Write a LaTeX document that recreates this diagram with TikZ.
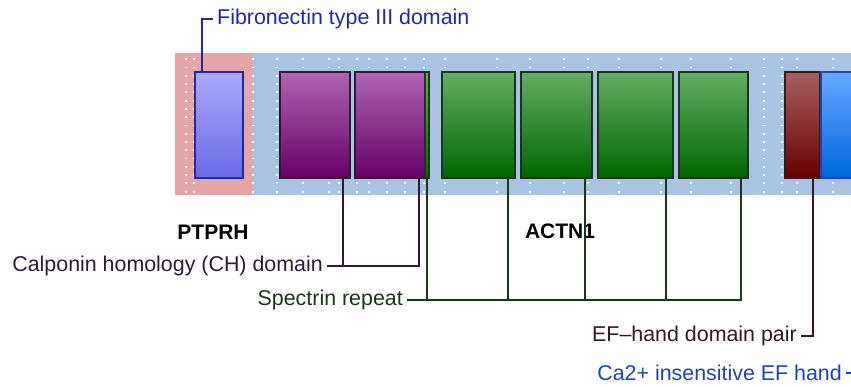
\documentclass[tikz,border=0pt]{standalone}
\usepackage{fontspec}
\setmainfont{Liberation Sans}
\usepackage{tikz}
\usetikzlibrary{positioning}
\definecolor{pinkbg}{HTML}{E4A6A6}
\definecolor{bluebg}{HTML}{A8C4E2}
\definecolor{fncol}{HTML}{2525A5}
\definecolor{chcol}{HTML}{2E1A36}
\definecolor{spcol}{HTML}{1A361A}
\definecolor{efcol}{HTML}{301C1C}
\definecolor{cacol}{HTML}{2244AA}

\begin{document}
\begin{tikzpicture}[x=1pt,y=-1pt]
					\tikzstyle{protbox}=[line width=1.6pt,inner sep=0pt,anchor=north west,minimum height=106pt]
					\tikzstyle{fnbox}=[protbox,draw=fncol,top color={rgb,255:red,170;green,170;blue,255},bottom color={rgb,255:red,106;green,106;blue,230}]
					\tikzstyle{chbox}=[protbox,draw=chcol,top color={rgb,255:red,176;green,101;blue,176},bottom color={rgb,255:red,102;green,0;blue,102}]
					\tikzstyle{spbox}=[protbox,draw=spcol,top color={rgb,255:red,102;green,173;blue,102},bottom color={rgb,255:red,0;green,102;blue,0}]
					\tikzstyle{efbox}=[protbox,draw=efcol,top color={rgb,255:red,170;green,96;blue,96},bottom color={rgb,255:red,102;green,0;blue,0}]
					\tikzstyle{cabox}=[protbox,draw=cacol,top color={rgb,255:red,102;green,170;blue,255},bottom color={rgb,255:red,0;green,102;blue,221}]
					\tikzstyle{lab}=[inner sep=4pt,font=\fontsize{21.4}{24}\selectfont]
					\tikzstyle{gene}=[inner sep=0pt,font=\fontsize{21}{24}\selectfont\bfseries]
					\tikzstyle{lead}=[line width=2pt]
					\useasboundingbox (0,0) rectangle (851,386);
					\clip (0,0) rectangle (851,386);
					\fill[pinkbg] (175,53) rectangle (253,195);
					\fill[bluebg] (253,53) rectangle (880,195);
					\foreach \x in {186,194,253,277,303,329,339,357,369,387,405,424,445,497,530,564,588,619,661,691,731,764,782,797,833}
						\foreach \k in {0,...,16}
							\fill[white] (\x-0.9,59.3+8.27*\k-0.9) rectangle +(1.8,1.8);
					\node[fnbox,minimum width=48pt] (fn) at (194,71) {};
					\node[chbox,minimum width=70pt] (ch1) at (279,71) {};
					\node[chbox,minimum width=71pt] (ch2) at (354,71) {};
					\node[spbox,minimum width=4pt] (sp0) at (424,71) {};
					\node[spbox,minimum width=73pt] (sp1) at (441,71) {};
					\node[spbox,minimum width=71pt] (sp2) at (520,71) {};
					\node[spbox,minimum width=75pt] (sp3) at (597,71) {};
					\node[spbox,minimum width=69pt] (sp4) at (678,71) {};
					\node[efbox,minimum width=35pt] (ef) at (784,71) {};
					\node[cabox,minimum width=50pt] (ca) at (820,71) {};
					\node[gene] (ptprh) at (213,232) {PTPRH};
					\node[gene] (actn1) at (560,231) {ACTN1};
					\node[lab,text=fncol,anchor=west] (fnlab) at (213,19) {Fibronectin type III domain};
					\node[lab,text=chcol,anchor=east] (chlab) at (327,266) {Calponin homology (CH) domain};
					\node[lab,text=spcol,anchor=east] (splab) at (407,300) {Spectrin repeat};
					\node[lab,text=efcol,anchor=east] (eflab) at (801,336) {EF{\textendash}hand domain pair};
					\node[lab,text=cacol,anchor=east] (calab) at (846,373) {Ca2+ insensitive EF hand};
					\draw[lead,fncol] ([xshift=8pt]fn.north west) |- (fnlab.west);
					\draw[lead,chcol] ([xshift=-8pt]ch2.south east) |- (chlab.east);
					\draw[lead,chcol] ([xshift=-8pt]ch1.south east) -- ([xshift=-8pt]ch1.south east |- chlab.east);
					\draw[lead,spcol] ([xshift=-8pt]sp4.south east) |- (splab.east);
					\draw[lead,spcol] (sp0.south) -- (sp0.south |- splab.east);
					\draw[lead,spcol] ([xshift=-8pt]sp1.south east) -- ([xshift=-8pt]sp1.south east |- splab.east);
					\draw[lead,spcol] ([xshift=-8pt]sp2.south east) -- ([xshift=-8pt]sp2.south east |- splab.east);
					\draw[lead,spcol] ([xshift=-8pt]sp3.south east) -- ([xshift=-8pt]sp3.south east |- splab.east);
					\draw[lead,efcol] ([xshift=-8pt]ef.south east) |- (eflab.east);
					\draw[lead,cacol] ([xshift=-8pt]ca.south east) |- (calab.east);
\end{tikzpicture}
\end{document}
